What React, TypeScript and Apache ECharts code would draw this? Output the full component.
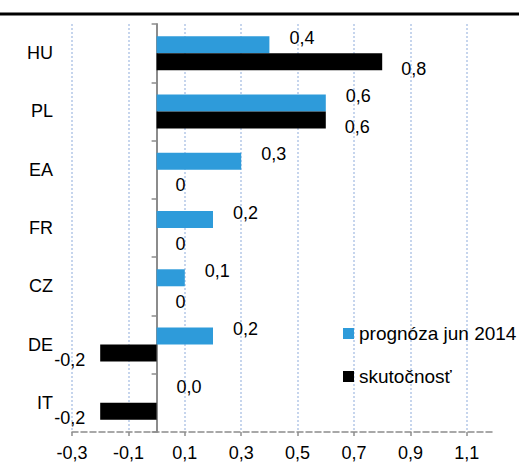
import React, { useEffect, useRef } from "react";
import * as echarts from "echarts";

const categories = ["HU", "PL", "EA", "FR", "CZ", "DE", "IT"];
const forecastValues = [0.4, 0.6, 0.3, 0.2, 0.1, 0.2, 0.0];
const actualValues = [0.8, 0.6, 0, 0, 0, -0.2, -0.2];
const seriesNames = ["prognóza jun 2014", "skutočnosť"];

const FONT = "'Liberation Sans', Arial, sans-serif";
const comma = (v: number) => v.toFixed(1).replace(".", ",");

export default function App() {
  const ref = useRef<HTMLDivElement>(null);
  useEffect(() => {
    if (!ref.current) return;
    const chart = echarts.init(ref.current, null, { renderer: "svg" });
    const labelBase = { show: true, fontSize: 18, color: "#000", fontFamily: FONT };
    chart.setOption({
      animation: false,
      backgroundColor: "#fff",
      textStyle: { fontFamily: FONT },
      grid: { left: 72, right: 24, top: 24, bottom: 34, containLabel: false, outerBoundsMode: "none" },
      legend: {
        orient: "vertical",
        left: 343,
        top: 324,
        padding: 0,
        itemWidth: 11,
        itemHeight: 11,
        itemGap: 24,
        icon: "rect",
        textStyle: { fontSize: 19, color: "#000", fontFamily: FONT },
        data: seriesNames,
      },
      xAxis: {
        type: "value",
        min: -0.3,
        max: 1.2,
        interval: 0.2,
        axisLine: { show: true, onZero: false, lineStyle: { color: "#8c8c8c", type: "dashed", width: 1.5 } },
        axisTick: { show: true, length: 4, lineStyle: { color: "#8c8c8c", width: 1.5 } },
        axisLabel: { fontSize: 18, color: "#000", margin: 12, fontFamily: FONT, showMaxLabel: false, formatter: (v: number) => comma(v) },
        splitLine: { show: true, showMaxLine: false, lineStyle: { color: "#b4c7e7", type: [2, 2], width: 1.5 } },
      },
      yAxis: {
        type: "category",
        inverse: true,
        data: categories,
        axisLine: { show: true, onZero: true, lineStyle: { color: "#8c8c8c", width: 2 } },
        axisTick: { show: true, length: 5, lineStyle: { color: "#8c8c8c", width: 1.5 } },
        axisLabel: { fontSize: 18, color: "#000", margin: 19, fontFamily: FONT },
        splitLine: { show: false },
      },
      series: [
        {
          name: seriesNames[0],
          type: "bar",
          barWidth: 17,
          barGap: "0%",
          itemStyle: { color: "#2e9bda" },
          label: { ...labelBase, position: "right", distance: 5, offset: [15, -7], formatter: (p: any) => comma(p.value) },
          data: forecastValues,
        },
        {
          name: seriesNames[1],
          type: "bar",
          barWidth: 17,
          barGap: "0%",
          itemStyle: { color: "#000" },
          label: { ...labelBase, position: "right", distance: 5, offset: [14, 7], formatter: (p: any) => (p.value === 0 ? "0" : comma(p.value)) },
          data: actualValues.map((v) =>
            v < 0 ? { value: v, label: { position: "left", offset: [-10, 7] } } : { value: v }
          ),
        },
      ],
      graphic: [
        { type: "line", shape: { x1: 0, y1: 14, x2: 519, y2: 14 }, style: { stroke: "#000", lineWidth: 3 } },
      ],
    });
    return () => chart.dispose();
  }, []);
  return <div ref={ref} style={{ position: "absolute", left: 0, top: 0, width: 519, height: 466 }} />;
}
